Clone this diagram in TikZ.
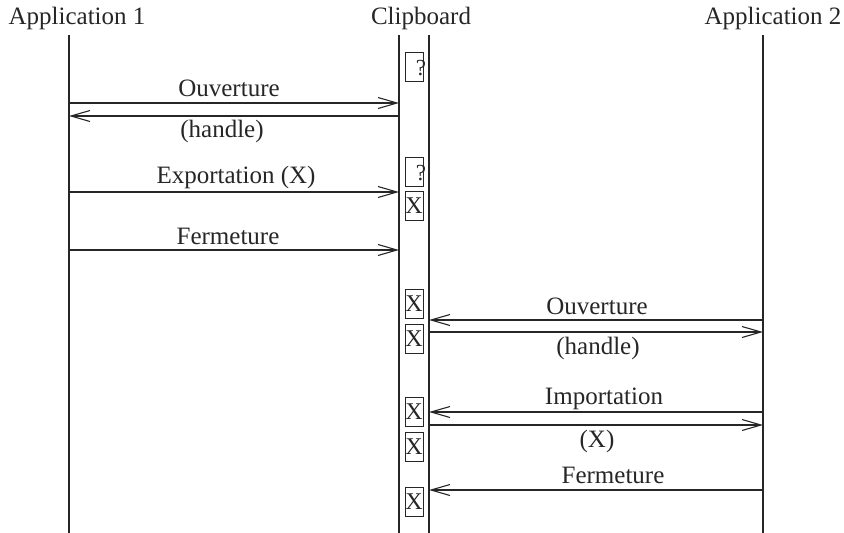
\documentclass[tikz,border=0pt]{standalone}
\usepackage{fontspec}
\setmainfont{Liberation Serif}
\usetikzlibrary{arrows.meta}
\begin{document}
\begin{tikzpicture}[x=1pt,y=-1pt,
  ink/.style={draw=black!85, line width=1.1pt},
  life/.style={ink},
  msg/.style={ink, -{Straight Barb[length=19pt,width=11pt,line width=1.1pt]}},
  lbl/.style={text=black!85, font=\fontsize{25}{29}\selectfont, inner sep=0pt},
  cell/.style={draw=black!85, line width=0.9pt, minimum width=18pt, minimum height=29pt,
    inner sep=0pt, text=black!85, font=\fontsize{24}{28}\selectfont},
  qmark/.style={text=black!85, font=\fontsize{23}{26}\selectfont, inner sep=0pt}]
  \useasboundingbox (0,0) rectangle (844,533);

  % headers
  \node[lbl] (h1) at (77,18) {Application 1};
  \node[lbl] (hc) at (421,18) {Clipboard};
  \node[lbl] (h2) at (773,18) {Application 2};

  % lifelines
  \coordinate (a1top) at (69,35);   \coordinate (a1bot) at (69,533);
  \coordinate (cltop) at (399,35);  \coordinate (clbot) at (399,533);
  \coordinate (crtop) at (429,35);  \coordinate (crbot) at (429,533);
  \coordinate (a2top) at (763,35);  \coordinate (a2bot) at (763,533);
  \draw[life] (a1top) -- (a1bot);
  \draw[life] (cltop) -- (clbot);
  \draw[life] (crtop) -- (crbot);
  \draw[life] (a2top) -- (a2bot);

  % message end points on the lifelines
  \foreach \n/\y in {1/103,2/116,3/192,4/250}{
    \coordinate (p\n) at (69,\y);
    \coordinate (c\n) at (399,\y);}
  \foreach \n/\y in {5/320,6/332,7/412,8/425,9/490}{
    \coordinate (c\n) at (429,\y);
    \coordinate (q\n) at (763,\y);}

  % Application 1 <-> Clipboard
  \draw[msg] (p1) -- (c1);
  \draw[msg] (c2) -- (p2);
  \draw[msg] (p3) -- (c3);
  \draw[msg] (p4) -- (c4);
  \node[lbl] (l1) at (229,88) {Ouverture};
  \node[lbl] (l2) at (222,131) {(handle)};
  \node[lbl] (l3) at (236,177) {Exportation (X)};
  \node[lbl] (l4) at (228,236) {Fermeture};

  % Clipboard <-> Application 2
  \draw[msg] (q5) -- (c5);
  \draw[msg] (c6) -- (q6);
  \draw[msg] (q7) -- (c7);
  \draw[msg] (c8) -- (q8);
  \draw[msg] (q9) -- (c9);
  \node[lbl] (l5) at (597,306) {Ouverture};
  \node[lbl] (l6) at (598,348) {(handle)};
  \node[lbl] (l7) at (604,399) {Importation};
  \node[lbl] (l8) at (597,441) {(X)};
  \node[lbl] (l9) at (613,475) {Fermeture};

  % clipboard contents
  \node[cell] (e1) at (414,67) {};
  \node[qmark] (e1q) at (421,68) {?};
  \node[cell] (e2) at (414,172) {};
  \node[qmark] (e2q) at (421,173) {?};
  \node[cell] (x1) at (414,206) {X};
  \node[cell] (x2) at (414,304) {X};
  \node[cell] (x3) at (414,339) {X};
  \node[cell] (x4) at (414,412) {X};
  \node[cell] (x5) at (414,447) {X};
  \node[cell] (x6) at (414,502) {X};
\end{tikzpicture}
\end{document}
